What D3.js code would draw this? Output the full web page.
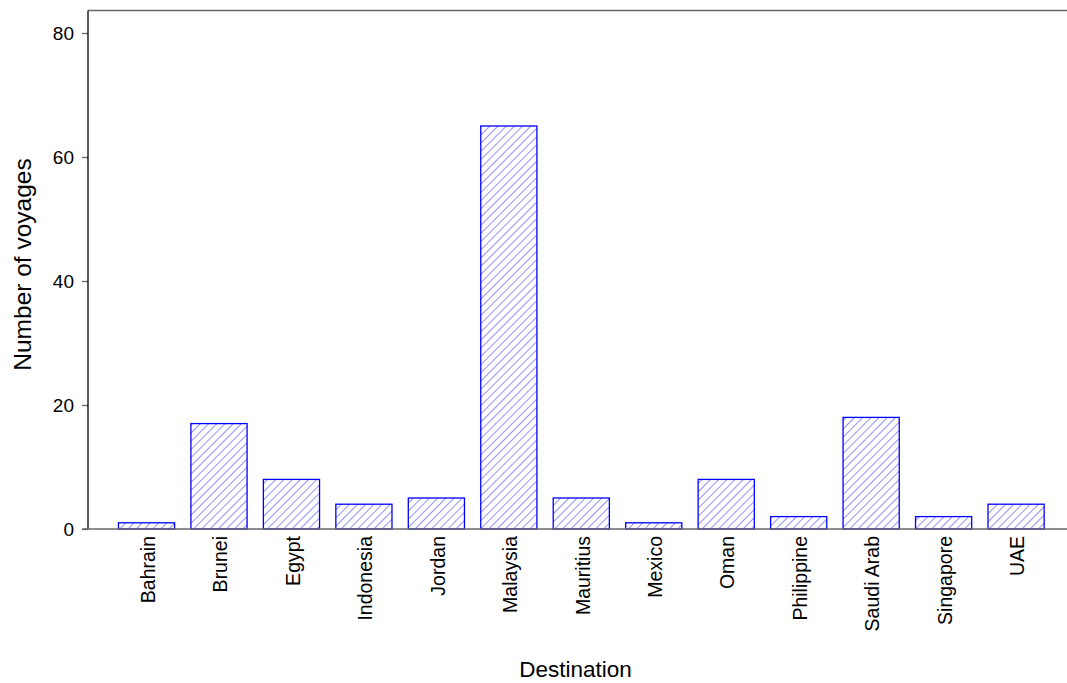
<!DOCTYPE html>
<html>
<head>
<meta charset="utf-8">
<script src="https://cdn.jsdelivr.net/npm/d3@7"></script>
<style>
  body { margin: 0; background: #fff; }
  svg { display: block; font-family: Arial, "Liberation Sans", sans-serif; }
</style>
</head>
<body>
<svg id="chart"></svg>
<script>
const destinations = ['Bahrain', 'Brunei', 'Egypt', 'Indonesia', 'Jordan', 'Malaysia',
  'Mauritius', 'Mexico', 'Oman', 'Philippine', 'Saudi Arab', 'Singapore', 'UAE'];
const voyages = [1, 17, 8, 4, 5, 65, 5, 1, 8, 2, 18, 2, 4];
const yTicks = [0, 20, 40, 60, 80];

const width = 1067, height = 683;
const plot = {left: 88, right: 1067, top: 10.5, bottom: 529};
const font = 'Arial, "Liberation Sans", sans-serif';

const svg = d3.select('#chart').attr('width', width).attr('height', height);

const x = d3.scaleBand()
  .domain(destinations)
  .range([110.3, 1052.3])
  .paddingInner(0.225)
  .paddingOuter(0.1125);

const y = d3.scaleLinear()
  .domain([0, 80])
  .range([plot.bottom, 33]);

const defs = svg.append('defs');
defs.append('pattern')
  .attr('id', 'hatch')
  .attr('patternUnits', 'userSpaceOnUse')
  .attr('width', 5.8)
  .attr('height', 5.8)
  .attr('patternTransform', 'rotate(45)')
  .append('line')
  .attr('x1', 0).attr('y1', 0)
  .attr('x2', 0).attr('y2', 5.8)
  .attr('stroke', '#4a4aff')
  .attr('stroke-width', 1.2);

// top border
svg.append('line')
  .attr('x1', plot.left).attr('x2', plot.right)
  .attr('y1', plot.top).attr('y2', plot.top)
  .attr('stroke', '#666').attr('stroke-width', 1.5);

// bars
svg.append('g')
  .selectAll('rect')
  .data(destinations)
  .join('rect')
  .attr('x', d => x(d))
  .attr('width', x.bandwidth())
  .attr('y', (d, i) => y(voyages[i]))
  .attr('height', (d, i) => y(0) - y(voyages[i]))
  .attr('fill', 'url(#hatch)')
  .attr('stroke', '#0000ff')
  .attr('stroke-width', 1.3);

// y axis
const yAxis = svg.append('g')
  .attr('transform', `translate(${plot.left},0)`)
  .call(d3.axisLeft(y).tickValues(yTicks).tickSize(6).tickPadding(8).tickSizeOuter(0));
yAxis.select('.domain').remove();
yAxis.selectAll('.tick line').attr('stroke', '#666').attr('stroke-width', 1.3);
yAxis.selectAll('.tick text').attr('font-size', 19).attr('fill', '#000')
  .attr('font-family', font);
svg.append('line')
  .attr('x1', plot.left).attr('x2', plot.left)
  .attr('y1', plot.top).attr('y2', plot.bottom)
  .attr('stroke', '#000').attr('stroke-width', 1.3);

// x axis
const xAxis = svg.append('g')
  .attr('transform', `translate(0,${plot.bottom})`)
  .call(d3.axisBottom(x).tickSize(0).tickPadding(0));
xAxis.select('.domain').remove();
xAxis.selectAll('.tick text')
  .attr('font-size', 19.5)
  .attr('fill', '#000')
  .attr('font-family', font)
  .attr('transform', 'rotate(-90)')
  .attr('text-anchor', 'end')
  .attr('x', -7)
  .attr('y', 0)
  .attr('dy', '0.42em');
svg.append('line')
  .attr('x1', plot.left - 6).attr('x2', plot.right)
  .attr('y1', plot.bottom).attr('y2', plot.bottom)
  .attr('stroke', '#666').attr('stroke-width', 1.5);

// titles
svg.append('text')
  .attr('x', 575.5).attr('y', 677)
  .attr('text-anchor', 'middle')
  .attr('font-size', 22.5)
  .text('Destination');

svg.append('text')
  .attr('transform', 'translate(31,264.5) rotate(-90)')
  .attr('text-anchor', 'middle')
  .attr('font-size', 24.5)
  .text('Number of voyages');
</script>
</body>
</html>
